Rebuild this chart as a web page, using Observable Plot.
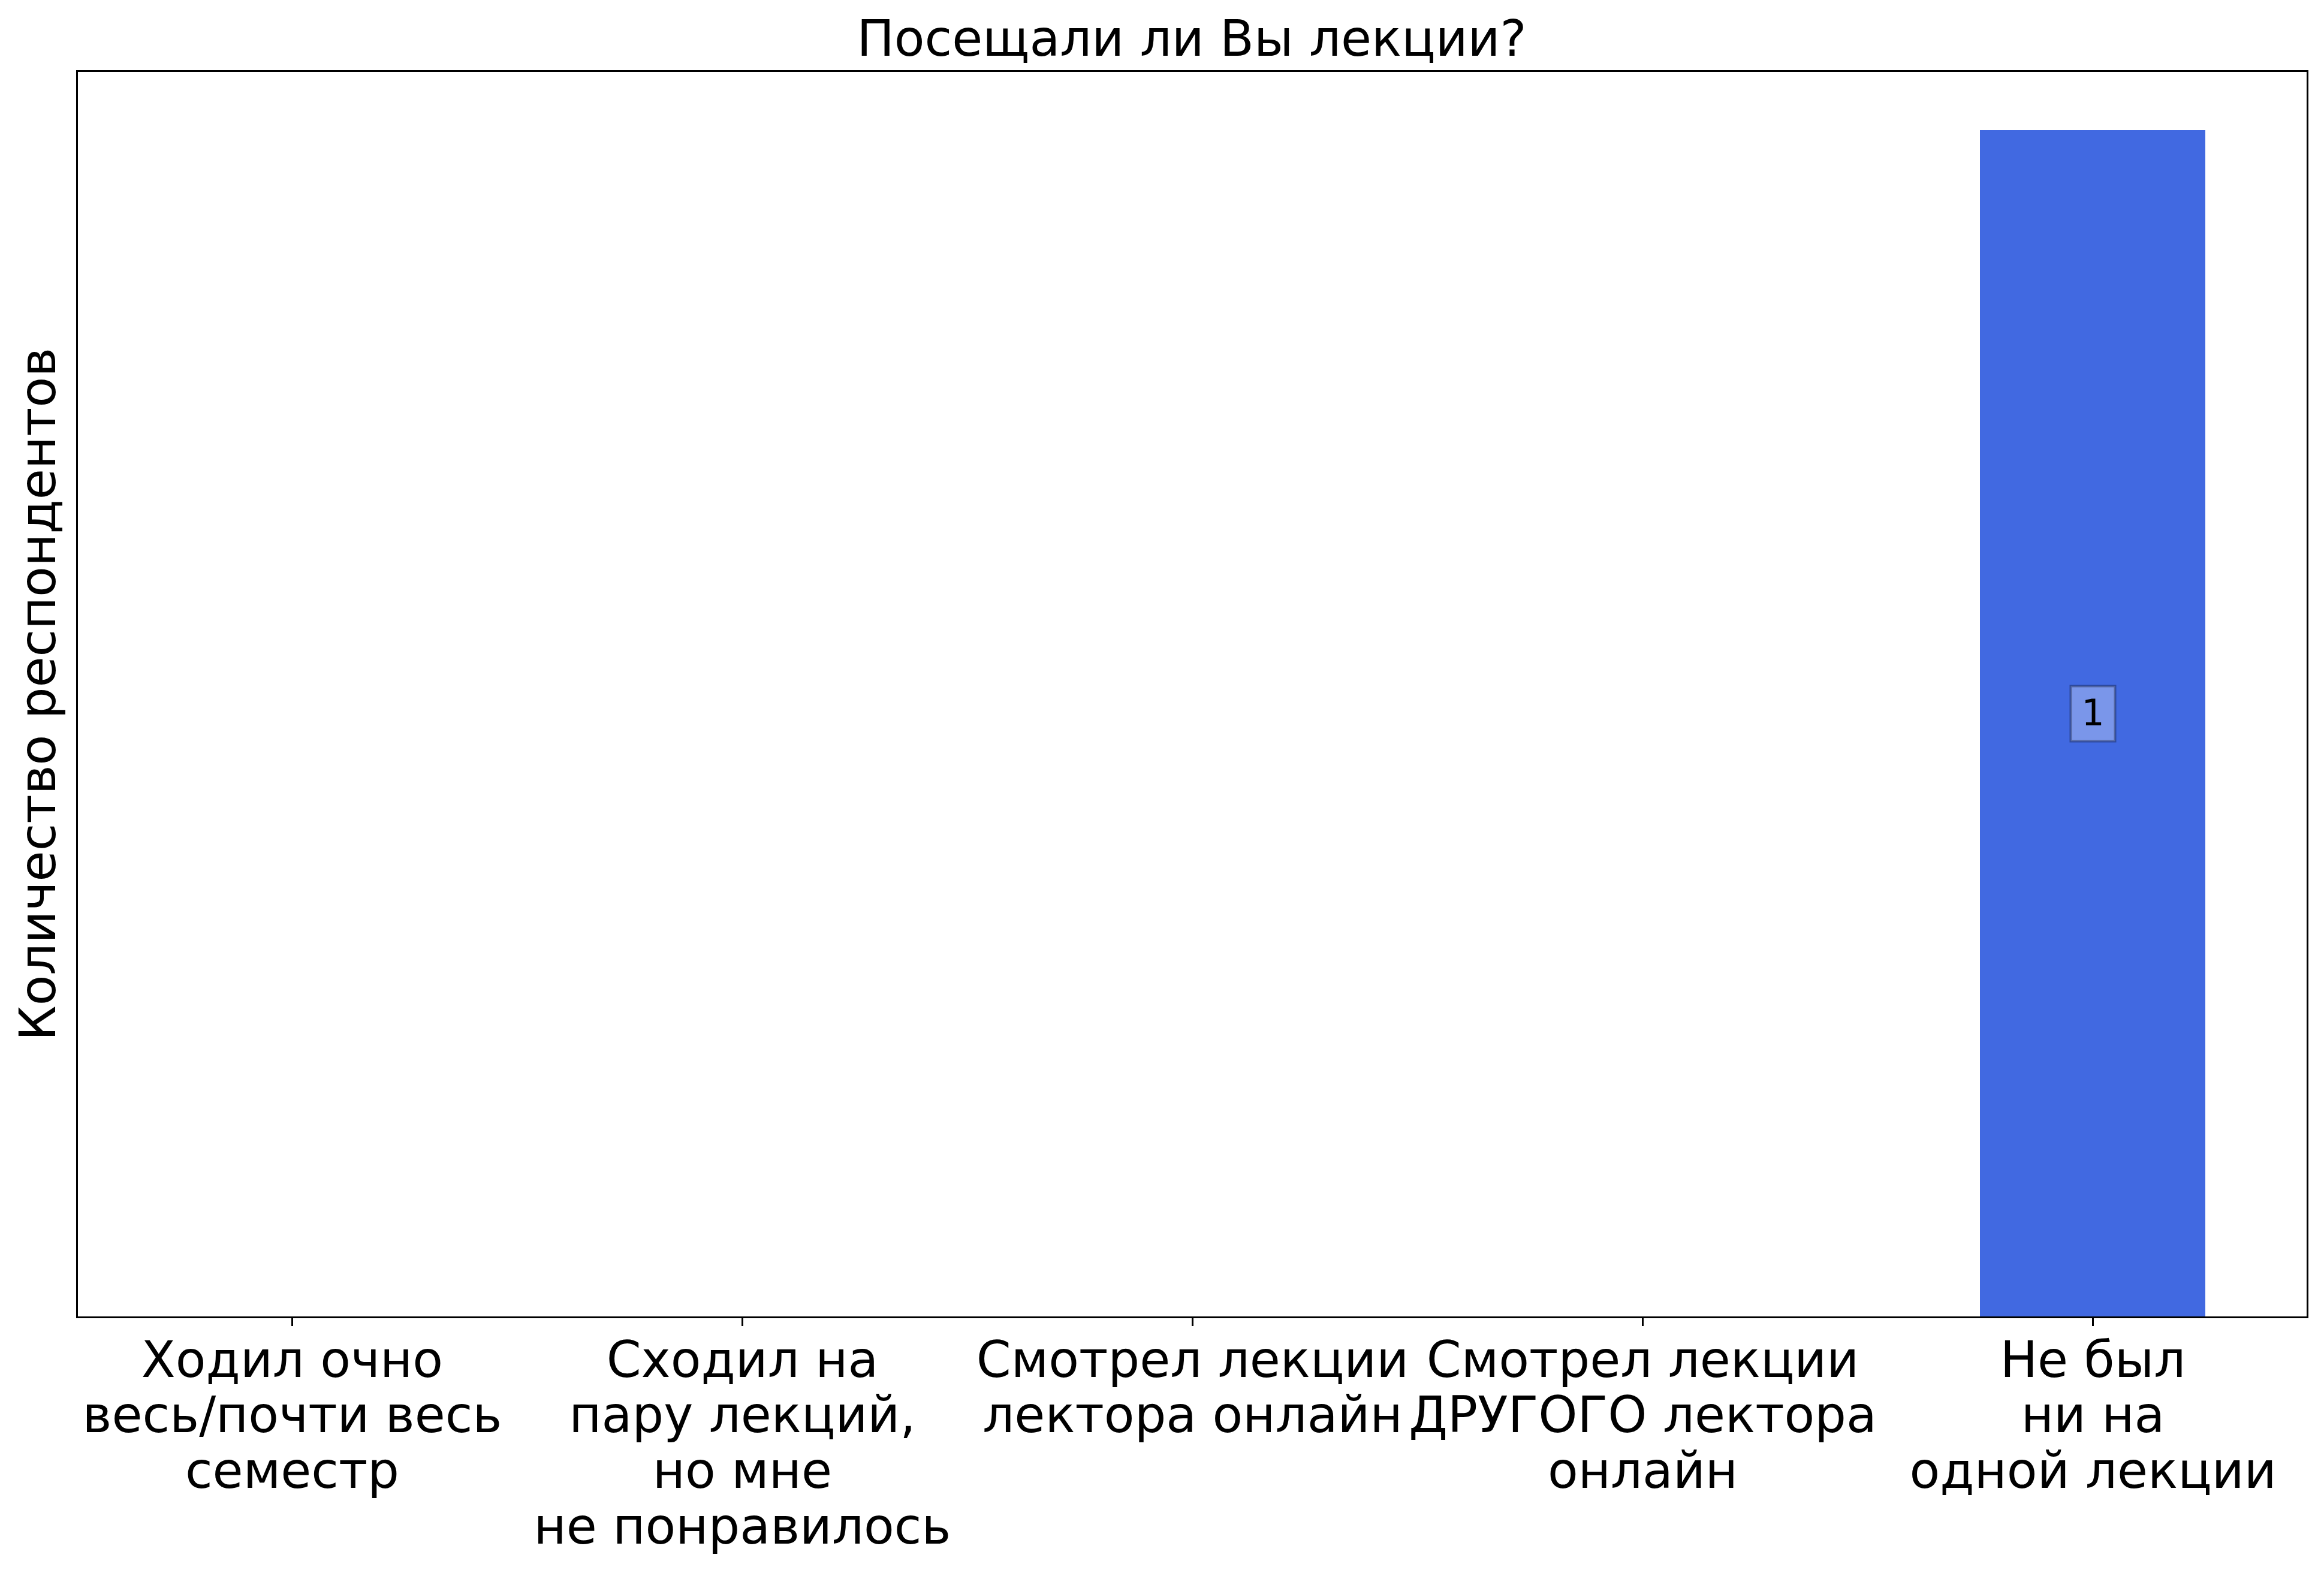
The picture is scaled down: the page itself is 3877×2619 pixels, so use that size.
<!DOCTYPE html>
<html>
<head>
<meta charset="utf-8">
<script src="https://cdn.jsdelivr.net/npm/d3@7"></script>
<script src="https://cdn.jsdelivr.net/npm/@observablehq/plot@0.6"></script>
<style>
  body { margin: 0; background: #fff; font-family: "DejaVu Sans", sans-serif; }
  #title { width: 3877px; height: 100px; box-sizing: border-box; padding-top: 23px; padding-left: 99px;
           text-align: center; font-size: 83px; line-height: 1; color: #000; font-family: "DejaVu Sans", sans-serif; }
</style>
</head>
<body>
<div id="title">Посещали ли Вы лекции?</div>
<div id="chart"></div>
<script>
const categories = [
  "Ходил очно\nвесь/почти весь\nсеместр",
  "Сходил на\nпару лекций,\nно мне\nне понравилось",
  "Смотрел лекции\nлектора онлайн",
  "Смотрел лекции\nДРУГОГО лектора\nонлайн",
  "Не был\nни на\nодной лекции"
];
const counts = [0, 0, 0, 0, 1];
const yLabel = "Количество респондентов";

const data = categories.map((c, i) => ({category: c, count: counts[i]}));
const labelBox = {draw(context) { context.rect(-37, -46, 74, 92); }};

const chart = Plot.plot({
  width: 3877,
  height: 2519,
  marginLeft: 128,
  marginRight: 28,
  marginTop: 18,
  marginBottom: 422,
  style: {fontFamily: "DejaVu Sans, sans-serif", background: "#fff", color: "#000"},
  x: {type: "band", domain: categories, paddingInner: 0.5, paddingOuter: 0.2256, axis: null},
  y: {domain: [0, 1.05], axis: null},
  marks: [
    Plot.barY(data, {x: "category", y: "count", fill: "#4169E1"}),
    Plot.dot(data.filter(d => d.count > 0), {x: "category", y: d => d.count / 2, symbol: labelBox, r: 10,
      fill: "white", fillOpacity: 0.3, stroke: "black", strokeOpacity: 0.3, strokeWidth: 4, dy: -17}),
    Plot.text(data.filter(d => d.count > 0), {x: "category", y: d => d.count / 2, text: d => String(d.count),
      fontSize: 60, fill: "black", dy: -17}),
    Plot.frame({stroke: "black", strokeWidth: 3}),
    Plot.axisX({domain: categories, tickSize: 15, strokeWidth: 3, tickFormat: () => "", label: null}),
    Plot.text(categories, {x: d => d, frameAnchor: "bottom", lineAnchor: "top", dy: 33,
      fontSize: 83, lineHeight: 1.12, fill: "black"}),
    Plot.text([yLabel], {frameAnchor: "left", textAnchor: "middle", rotate: -90, dx: -63, fontSize: 83, fill: "black"})
  ]
});
document.getElementById("chart").appendChild(chart);
</script>
</body>
</html>
